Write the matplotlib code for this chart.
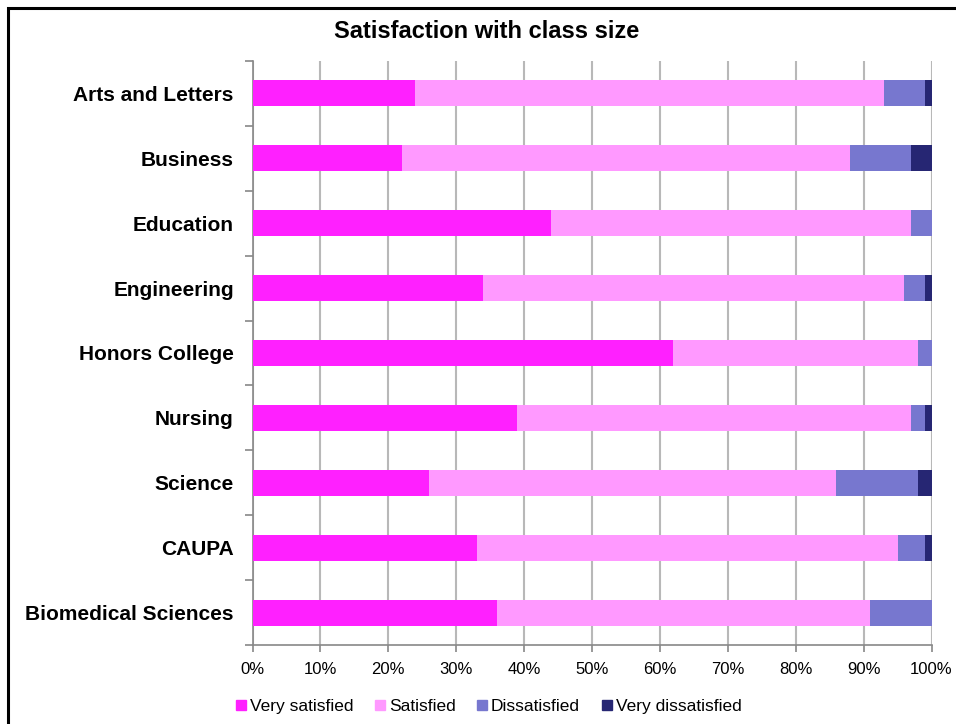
import matplotlib
matplotlib.use("Agg")
import matplotlib.pyplot as plt
from matplotlib.patches import Rectangle
from matplotlib.lines import Line2D
import numpy as np

plt.rcParams['font.family'] = ['Liberation Sans', 'DejaVu Sans']

categories = ["Arts and Letters", "Business", "Education", "Engineering",
              "Honors College", "Nursing", "Science", "CAUPA",
              "Biomedical Sciences"]
very_satisfied = [24, 22, 44, 34, 62, 39, 26, 33, 36]
satisfied = [69, 66, 53, 62, 36, 58, 60, 62, 55]
dissatisfied = [6, 9, 3, 3, 2, 2, 12, 4, 9]
very_dissatisfied = [1, 3, 0, 1, 0, 1, 2, 1, 0]

series_names = ["Very satisfied", "Satisfied", "Dissatisfied", "Very dissatisfied"]
colors = ["#FF20FF", "#FF99FF", "#7777CF", "#262673"]
xticks = [0, 10, 20, 30, 40, 50, 60, 70, 80, 90, 100]

W, H = 956, 724
fig = plt.figure(figsize=(W / 100, H / 100), dpi=100)

# outer chart border
fig.patches.append(Rectangle((8 / W, -0.1), 1.2, 1 - 8 / H + 0.1,
                             transform=fig.transFigure, fill=False,
                             edgecolor="black", linewidth=2.2))

ax_left, ax_right = 252.5 / W, 931.5 / W
ax_top, ax_bottom = 1 - 61 / H, 1 - 645 / H
ax = fig.add_axes([ax_left, ax_bottom, ax_right - ax_left, ax_top - ax_bottom])

n = len(categories)
y = np.arange(n)
data = [very_satisfied, satisfied, dissatisfied, very_dissatisfied]
left = np.zeros(n)
for vals, col, name in zip(data, colors, series_names):
    vals = np.array(vals, dtype=float)
    ax.barh(y, vals, left=left, height=0.4, color=col, label=name, zorder=3)
    left += vals

ax.set_xlim(0, 100)
ax.set_ylim(n - 0.5, -0.5)
ax.set_xticks(xticks)
ax.set_xticklabels([f"{t}%" for t in xticks], fontsize=12)
ax.xaxis.grid(True, color="#B8B8B8", linewidth=1.5, zorder=0)
ax.set_axisbelow(True)

# category labels between boundary ticks
ax.set_yticks(np.arange(-0.5, n, 1.0))
ax.set_yticklabels([])
ax.set_yticks(y, minor=True)
ax.set_yticklabels(categories, minor=True, fontsize=15, fontweight="bold")
ax.tick_params(axis="y", which="minor", length=0, pad=13.5)
ax.tick_params(axis="y", which="major", length=6, color="#888888", width=1.2)
ax.tick_params(axis="x", length=5, color="#888888", width=1.2, pad=7)

for s in ["top", "right"]:
    ax.spines[s].set_visible(False)
for s in ["left", "bottom"]:
    ax.spines[s].set_color("#888888")
    ax.spines[s].set_linewidth(1.2)

fig.text(486.5 / W, 1 - 32 / H, "Satisfaction with class size",
         ha="center", va="center", fontsize=17, fontweight="bold")

handles = [Line2D([0], [0], marker="s", linestyle="none", markersize=7,
                  markerfacecolor=c, markeredgecolor=c) for c in colors]
fig.legend(handles, series_names, loc="center", bbox_to_anchor=(489 / W, 1 - 706 / H),
           ncol=4, frameon=False, fontsize=12.5, handlelength=0.5,
           handletextpad=0.25, columnspacing=1.3)

fig.savefig("out.png", dpi=100)
